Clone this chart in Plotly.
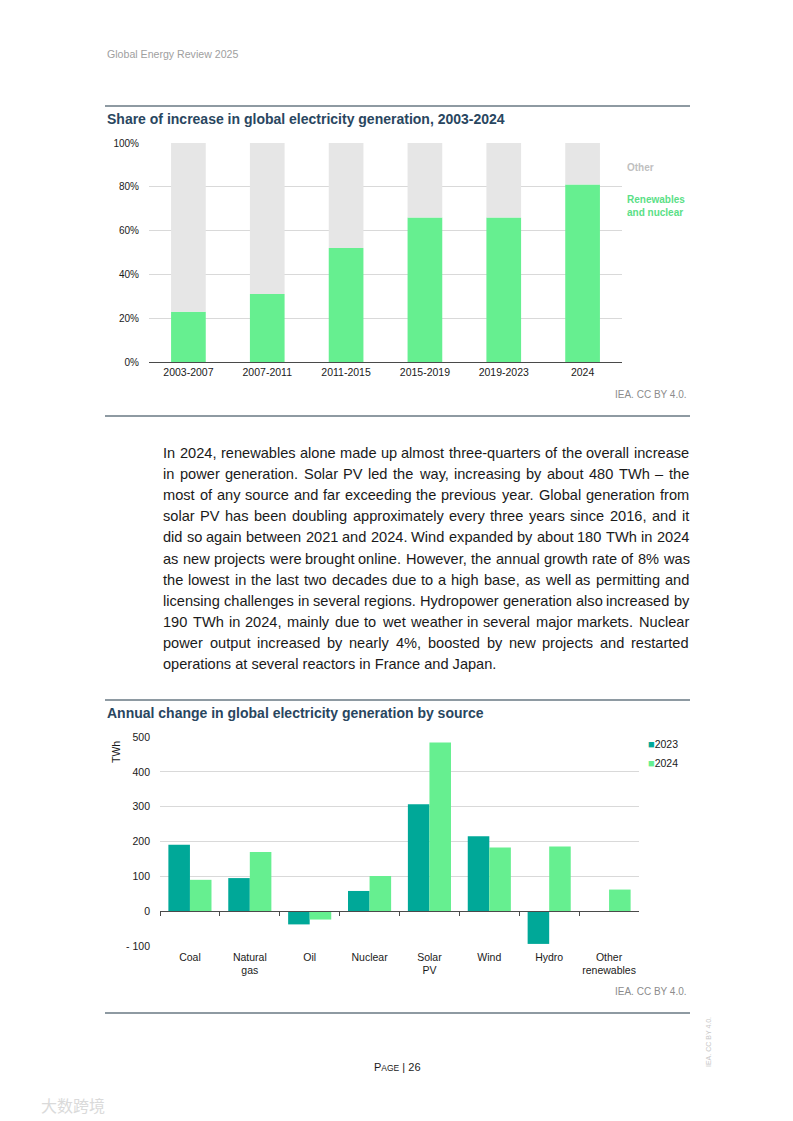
import plotly.graph_objects as go

W_PX, H_PX = 793, 1121
FONT = "Liberation Sans, Arial, Helvetica, sans-serif"

# ---------------- data ----------------
periods = ["2003-2007", "2007-2011", "2011-2015", "2015-2019", "2019-2023", "2024"]
renew_share = [23, 31, 52, 66, 66, 81]
other_share = [100 - v for v in renew_share]
share_ticks = [0, 20, 40, 60, 80, 100]
share_tick_labels = ["0%", "20%", "40%", "60%", "80%", "100%"]

sources = ["Coal", "Natural<br>gas", "Oil", "Nuclear", "Solar<br>PV", "Wind", "Hydro", "Other<br>renewables"]
change_2023 = [191, 95, -38, 58, 307, 215, -94, 0]
change_2024 = [90, 170, -24, 101, 484, 183, 186, 62]
twh_ticks = [-100, 0, 100, 200, 300, 400, 500]
twh_tick_labels = ["- 100", "0", "100", "200", "300", "400", "500"]

paragraph = [
    "In 2024, renewables alone made up almost three-quarters of the overall increase",
    "in power generation. Solar PV led the way, increasing by about 480 TWh \u2013 the",
    "most of any source and far exceeding the previous year. Global generation from",
    "solar PV has been doubling approximately every three years since 2016, and it",
    "did so again between 2021 and 2024. Wind expanded by about 180 TWh in 2024",
    "as new projects were brought online. However, the annual growth rate of 8% was",
    "the lowest in the last two decades due to a high base, as well as permitting and",
    "licensing challenges in several regions. Hydropower generation also increased by",
    "190 TWh in 2024, mainly due to wet weather in several major markets. Nuclear",
    "power output increased by nearly 4%, boosted by new projects and restarted",
    "operations at several reactors in France and Japan.",
]

# ---------------- styles ----------------
GREEN = "#66ef90"
TEAL = "#00a898"
GREY_BAR = "#e6e6e6"
GRID = "#d9d9d9"
AXIS = "#4a4a4a"
TITLE = "#294660"
RULE = "#1f3646"
CREDIT = "#8c8c8c"

# the photographed page is shown slightly compressed vertically; compensate
V_OFF, V_SCALE = 6.0, 1109.0 / 1121.0


def px(x):
    return x / W_PX


def py(y):
    return 1 - ((y - V_OFF) / V_SCALE) / H_PX


# Arial / Helvetica advance widths (1/1000 em) for justification
HW = {' ': 278, '!': 278, '"': 355, '#': 556, '$': 556, '%': 889, '&': 667, "'": 191,
      '(': 333, ')': 333, '*': 389, '+': 584, ',': 278, '-': 333, '.': 278, '/': 278,
      ':': 278, ';': 278, '?': 556, '\u2013': 556,
      'A': 667, 'B': 667, 'C': 722, 'D': 722, 'E': 667, 'F': 611, 'G': 778, 'H': 722,
      'I': 278, 'J': 500, 'K': 667, 'L': 556, 'M': 833, 'N': 722, 'O': 778, 'P': 667,
      'Q': 778, 'R': 722, 'S': 667, 'T': 611, 'U': 722, 'V': 667, 'W': 944, 'X': 667,
      'Y': 667, 'Z': 611,
      'a': 556, 'b': 556, 'c': 500, 'd': 556, 'e': 556, 'f': 278, 'g': 556, 'h': 556,
      'i': 222, 'j': 222, 'k': 500, 'l': 222, 'm': 833, 'n': 556, 'o': 556, 'p': 556,
      'q': 556, 'r': 333, 's': 500, 't': 278, 'u': 556, 'v': 500, 'w': 722, 'x': 500,
      'y': 500, 'z': 500}
for d in "0123456789":
    HW[d] = 556


def text_w(s, size):
    return sum(HW.get(c, 556) for c in s) / 1000.0 * size


fig = go.Figure()

# ---- chart 1: share of increase ----
fig.add_trace(go.Bar(x=periods, y=renew_share, marker=dict(color=GREEN, line=dict(width=0)),
                     width=0.44, xaxis="x", yaxis="y", hoverinfo="skip", showlegend=False))
fig.add_trace(go.Bar(x=periods, y=other_share, base=renew_share,
                     marker=dict(color=GREY_BAR, line=dict(width=0)),
                     width=0.44, xaxis="x", yaxis="y", hoverinfo="skip", showlegend=False))

# ---- chart 2: annual change ----
fig.add_trace(go.Bar(x=sources, y=change_2023, marker=dict(color=TEAL, line=dict(width=0)),
                     width=0.36, offset=-0.36, xaxis="x2", yaxis="y2",
                     hoverinfo="skip", showlegend=False))
fig.add_trace(go.Bar(x=sources, y=change_2024, marker=dict(color=GREEN, line=dict(width=0)),
                     width=0.36, offset=0.0, xaxis="x2", yaxis="y2",
                     hoverinfo="skip", showlegend=False))
# invisible trace carrying the categories for the zero-line axis with boundary ticks
fig.add_trace(go.Scatter(x=sources, y=change_2024, mode="markers", marker=dict(opacity=0),
                         xaxis="x3", yaxis="y2", hoverinfo="skip", showlegend=False))

y2_bottom, y2_top = py(946), py(737)
zero_pos = y2_bottom + (0 - twh_ticks[0]) / (twh_ticks[-1] - twh_ticks[0]) * (y2_top - y2_bottom)

tickfont = dict(family=FONT, size=10.5, color="#1a1a1a")

fig.update_layout(
    width=W_PX, height=H_PX,
    margin=dict(l=0, r=0, t=0, b=0),
    paper_bgcolor="white", plot_bgcolor="white",
    barmode="overlay",
    showlegend=False,
    font=dict(family=FONT, color="#1a1a1a"),
    xaxis=dict(domain=[px(149), px(622)], anchor="y", type="category",
               range=[-0.5, len(periods) - 0.5],
               showline=True, linecolor=AXIS, linewidth=1, ticks="",
               showgrid=False, tickfont=tickfont, fixedrange=True),
    yaxis=dict(domain=[py(362), py(143)], anchor="x", range=[0, 100],
               tickvals=share_ticks, ticktext=share_tick_labels,
               showgrid=True, gridcolor=GRID, gridwidth=1, zeroline=False,
               showline=False, ticks="", ticklabelstandoff=9,
               tickfont=dict(family=FONT, size=10, color="#1a1a1a"), fixedrange=True),
    xaxis2=dict(domain=[px(160), px(639)], anchor="y2", type="category",
                range=[-0.5, len(sources) - 0.5],
                showline=False, ticks="", showgrid=False, tickfont=tickfont,
                ticklabelstandoff=3, fixedrange=True),
    yaxis2=dict(domain=[y2_bottom, y2_top], anchor="x2",
                range=[twh_ticks[0], twh_ticks[-1]],
                tickvals=twh_ticks, ticktext=twh_tick_labels,
                showgrid=True, gridcolor=GRID, gridwidth=1, zeroline=False,
                showline=False, ticks="", ticklabelstandoff=9,
                tickfont=tickfont, fixedrange=True),
    xaxis3=dict(overlaying="x2", anchor="free", position=zero_pos, type="category",
                domain=[px(160), px(639)],
                range=[-0.5, len(sources) - 0.5],
                showline=True, linecolor=AXIS, linewidth=1,
                ticks="outside", tickson="boundaries", ticklen=4, tickcolor=AXIS,
                showticklabels=False, showgrid=False, fixedrange=True),
)

ann = []


def add_text(x, y, text, size, color="#1a1a1a", xanchor="left", yanchor="middle",
             bold=False, angle=0, family=FONT):
    ann.append(dict(x=px(x), y=py(y), xref="paper", yref="paper", text=text,
                    showarrow=False, xanchor=xanchor, yanchor=yanchor, borderpad=0,
                    textangle=angle, align="left",
                    font=dict(family=family, size=size, color=color,
                              weight="bold" if bold else "normal")))


# page header
add_text(106, 54, "Global Energy Review 2025", 10.6, color="#a0a0a0")

# chart titles
add_text(106, 119, "Share of increase in global electricity generation, 2003-2024", 14,
         color=TITLE, bold=True)
add_text(106, 713, "Annual change in global electricity generation by source", 14,
         color=TITLE, bold=True)

# chart 1 legend labels
add_text(626, 167, "Other", 10, color="#bfbfbf", bold=True)
add_text(626, 206, "Renewables<br>and nuclear", 10, color="#5ae086", bold=True)

# chart 2 legend
add_text(647, 744, '<span style="color:%s;font-size:11px">\u25a0</span>2023' % TEAL, 10.5)
add_text(647, 763, '<span style="color:%s;font-size:11px">\u25a0</span>2024' % GREEN, 10.5)

# TWh axis title
add_text(116, 752, "TWh", 10.5, xanchor="center", angle=-90)

# credits
add_text(688, 395, "IEA. CC BY 4.0.", 10, color=CREDIT, xanchor="right")
add_text(688, 991, "IEA. CC BY 4.0.", 10, color=CREDIT, xanchor="right")

# body paragraph (justified)
P_SIZE = 14.6
P_LEFT, P_RIGHT = 162, 688
for i, line in enumerate(paragraph):
    yline = 453 + 21.1 * i
    if i == len(paragraph) - 1:
        add_text(P_LEFT, yline, line, P_SIZE)
        continue
    words = line.split(" ")
    total = sum(text_w(w, P_SIZE) for w in words)
    gap = (P_RIGHT - P_LEFT - total) / (len(words) - 1)
    xcur = P_LEFT
    for w in words:
        add_text(xcur, yline, w, P_SIZE)
        xcur += text_w(w, P_SIZE) + gap

# page number
add_text(397, 1067, 'P<span style="font-size:8.5px">AGE</span> | 26', 11, xanchor="center")

# vertical side credit
add_text(708, 1042, "IEA. CC BY 4.0.", 7, color="#c8c8c8", xanchor="center", angle=-90)

# watermark
add_text(40, 1105, "大数跨境", 16, color="#dadada", family="Noto Sans CJK SC")

fig.update_layout(annotations=ann)

# page rules
rules = [106, 416, 700, 1013]
fig.update_layout(shapes=[dict(type="line", xref="paper", yref="paper",
                               x0=px(105), x1=px(690), y0=py(r), y1=py(r),
                               line=dict(color=RULE, width=1.2)) for r in rules])

fig.write_html("out.html", config=dict(displayModeBar=False, staticPlot=True),
               post_script="document.documentElement.style.margin='0';document.body.style.margin='0';document.body.style.padding='0';document.body.style.overflow='hidden';")
